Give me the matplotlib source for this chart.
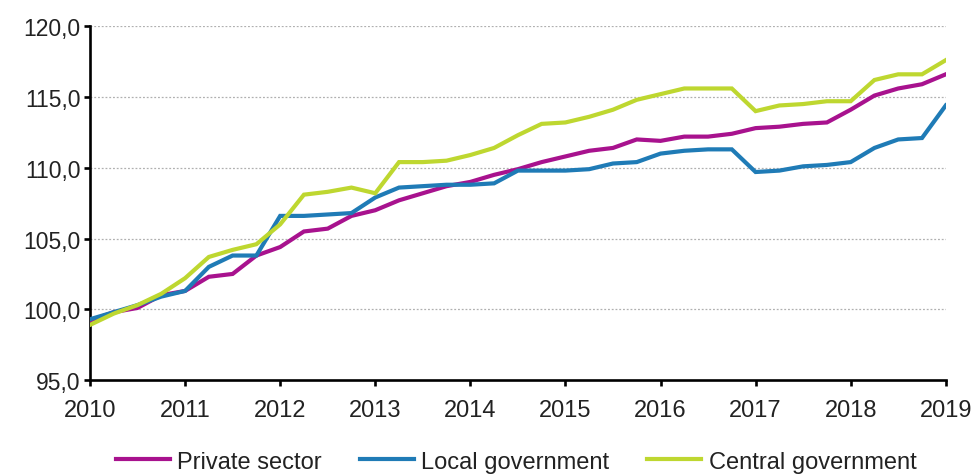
import matplotlib
matplotlib.use("Agg")
import matplotlib.pyplot as plt
import numpy as np
from matplotlib.ticker import FuncFormatter

plt.rcParams['font.family'] = ['Liberation Sans', 'DejaVu Sans']

start_year = 2010
years = list(range(2010, 2020))

private_sector = [99.2, 99.8, 100.1, 101.0, 101.3, 102.3, 102.5, 103.8, 104.4, 105.5,
                  105.7, 106.6, 107.0, 107.7, 108.2, 108.7, 109.0, 109.5, 109.9, 110.4,
                  110.8, 111.2, 111.4, 112.0, 111.9, 112.2, 112.2, 112.4, 112.8, 112.9,
                  113.1, 113.2, 114.1, 115.1, 115.6, 115.9, 116.6]
local_government = [99.3, 99.8, 100.3, 100.9, 101.3, 103.0, 103.8, 103.8, 106.6, 106.6,
                    106.7, 106.8, 107.9, 108.6, 108.7, 108.8, 108.8, 108.9, 109.8, 109.8,
                    109.8, 109.9, 110.3, 110.4, 111.0, 111.2, 111.3, 111.3, 109.7, 109.8,
                    110.1, 110.2, 110.4, 111.4, 112.0, 112.1, 114.4]
central_government = [98.9, 99.7, 100.3, 101.1, 102.2, 103.7, 104.2, 104.6, 106.0, 108.1,
                      108.3, 108.6, 108.2, 110.4, 110.4, 110.5, 110.9, 111.4, 112.3, 113.1,
                      113.2, 113.6, 114.1, 114.8, 115.2, 115.6, 115.6, 115.6, 114.0, 114.4,
                      114.5, 114.7, 114.7, 116.2, 116.6, 116.6, 117.6]

labels = ["Private sector", "Local government", "Central government"]
colors = ["#A8128E", "#1F7BB6", "#BED730"]

x = start_year + np.arange(len(private_sector)) / 4.0

fig = plt.figure(figsize=(9.74, 4.77), dpi=100)
ax = fig.add_axes([0.0924, 0.201, 0.8786, 0.742])

for series, lab, col in zip([private_sector, local_government, central_government], labels, colors):
    ax.plot(x, series, color=col, lw=3.0, label=lab, solid_joinstyle='miter', zorder=3)

ax.set_xlim(2010, 2019)
ax.set_ylim(95, 120)
ax.set_xticks(years)
ax.set_xticklabels([str(y) for y in years])
ax.set_yticks(np.arange(95, 121, 5))
ax.yaxis.set_major_formatter(FuncFormatter(lambda v, p: f"{v:.1f}".replace('.', ',')))

for v in range(100, 121, 5):
    ax.axhline(v, color='#b0b0b0', lw=0.9, ls=(0, (1.5, 1.5)), zorder=1)

for s in ['top', 'right']:
    ax.spines[s].set_visible(False)
for s in ['left', 'bottom']:
    ax.spines[s].set_linewidth(1.9)
    ax.spines[s].set_color('black')

ax.tick_params(axis='both', direction='out', length=4.5, width=1.9, colors='black')
ax.tick_params(axis='x', pad=9, labelsize=17)
ax.tick_params(axis='y', pad=2.5, labelsize=16.5)
for t in ax.get_xticklabels() + ax.get_yticklabels():
    t.set_color('#222222')

leg = fig.legend(loc='center', bbox_to_anchor=(0.53, 0.03), ncol=3, frameon=False,
                 fontsize=17, handlelength=2.3, handletextpad=0.3, columnspacing=1.6,
                 borderpad=0, borderaxespad=0)
for t in leg.get_texts():
    t.set_color('#222222')
for h in leg.get_lines():
    h.set_linewidth(3.0)

fig.savefig("out.png", dpi=100)
